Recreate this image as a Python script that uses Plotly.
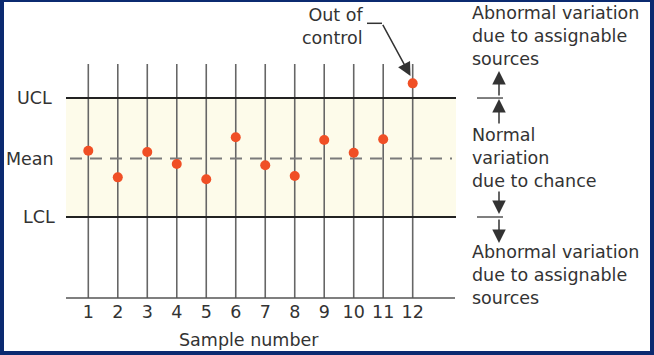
import plotly.graph_objects as go

# ---- data ----
samples = [1, 2, 3, 4, 5, 6, 7, 8, 9, 10, 11, 12]
tick_labels = ["1", "2", "3", "4", "5", "6", "7", "8", "9", "10", "11", "12"]
sample_values = [0.39, -0.95, 0.33, -0.28, -1.05, 1.07, -0.34, -0.88, 0.93, 0.29, 0.97, 3.79]
mean_value = 0.0
ucl_value = 3.05
lcl_value = -2.95
limit_names = ["UCL", "Mean", "LCL"]

# ---- layout helpers (pixel -> data coordinates) ----
W, H = 654, 355
ML, MR, MT, MB = 4, 4, 2, 4
X1PX, DXPX = 88.3, 29.49
Y0PX, DYPX = 158.5, 19.83


def dx(px):
    return 1 + (px - X1PX) / DXPX


def dy(py):
    return (Y0PX - py) / DYPX


FONT = "DejaVu Sans"
FS = 17.5
TXT = "#333333"
x_left, x_right = dx(66), dx(455)
y_base, y_top = dy(298), dy(64)

fig = go.Figure()

# vertical sample lines
vx, vy = [], []
for s in samples:
    vx += [s, s, None]
    vy += [y_base, y_top, None]
fig.add_trace(go.Scatter(x=vx, y=vy, mode="lines", line=dict(color="#666666", width=1.6),
                         hoverinfo="skip", showlegend=False))

# baseline axis
fig.add_trace(go.Scatter(x=[x_left, x_right], y=[y_base, y_base], mode="lines",
                         line=dict(color="#555555", width=1.6), hoverinfo="skip", showlegend=False))

# control limits
for v in (ucl_value, lcl_value):
    fig.add_trace(go.Scatter(x=[x_left, dx(456)], y=[v, v], mode="lines",
                             line=dict(color="#222222", width=2.2), hoverinfo="skip", showlegend=False))
fig.add_trace(go.Scatter(x=[dx(70), dx(452)], y=[mean_value, mean_value], mode="lines",
                         line=dict(color="#7a7a7a", width=2, dash="12px,8px"),
                         hoverinfo="skip", showlegend=False))

# sample points
fig.add_trace(go.Scatter(x=samples, y=sample_values, mode="markers",
                         marker=dict(color="#f04f25", size=10, line=dict(width=0)),
                         showlegend=False))

# tick labels
fig.add_trace(go.Scatter(x=samples, y=[dy(314)] * len(samples), mode="text", text=tick_labels,
                         textposition="middle center",
                         textfont=dict(family=FONT, size=FS, color=TXT),
                         hoverinfo="skip", showlegend=False))

shapes = [
    dict(type="rect", xref="x", yref="y", x0=x_left, x1=dx(456), y0=lcl_value, y1=ucl_value,
         fillcolor="#fdfbea", line=dict(width=0), layer="below"),
    dict(type="line", xref="x", yref="y", x0=dx(477), x1=dx(503), y0=ucl_value, y1=ucl_value,
         line=dict(color="#555555", width=1.5)),
    dict(type="line", xref="x", yref="y", x0=dx(477), x1=dx(503), y0=lcl_value, y1=lcl_value,
         line=dict(color="#555555", width=1.5)),
    dict(type="line", xref="x", yref="y", x0=dx(367), x1=dx(382), y0=dy(23.3), y1=dy(23.3),
         line=dict(color="#333333", width=1.5)),
]

ann = []
# left limit labels
for name, v, rpx in zip(limit_names, [ucl_value, mean_value, lcl_value], [54, 56, 57]):
    ann.append(dict(x=dx(rpx), y=v, xref="x", yref="y",
                    text=name, showarrow=False, xanchor="right", yanchor="middle",
                    font=dict(family=FONT, size=FS, color=TXT)))

# axis title
ann.append(dict(x=dx(249), y=dy(340), xref="x", yref="y", text="Sample number", showarrow=False,
                xanchor="center", yanchor="middle", font=dict(family=FONT, size=FS, color=TXT)))

# right-side texts
for txt, cy in [("Abnormal variation<br>due to assignable<br>sources", 36),
                ("Normal<br>variation<br>due to chance", 158),
                ("Abnormal variation<br>due to assignable<br>sources", 275)]:
    ann.append(dict(x=dx(470), y=dy(cy), xref="x", yref="y", text=txt, showarrow=False,
                    xanchor="left", yanchor="middle", align="left",
                    font=dict(family=FONT, size=FS, color=TXT)))

ann.append(dict(x=dx(365), y=dy(26), xref="x", yref="y", text="Out of<br>control", showarrow=False,
                xanchor="right", yanchor="middle", align="right",
                font=dict(family=FONT, size=FS, color=TXT)))

# arrows
arrow_style = dict(showarrow=True, arrowhead=2, arrowsize=1.8, arrowwidth=1.5, arrowcolor="#333333",
                   text="", xref="x", yref="y", axref="pixel", ayref="pixel", standoff=0, startstandoff=0)
for head_py, ay in [(71, 26), (99, 26), (214, -24), (243, -25)]:
    ann.append(dict(x=dx(499), y=dy(head_py), ax=0, ay=ay, **arrow_style))
ann.append(dict(x=dx(410.5), y=dy(76), ax=-28.5, ay=-52.7, **arrow_style))

fig.update_layout(
    width=W, height=H,
    margin=dict(l=ML, r=MR, t=MT, b=MB, pad=0),
    paper_bgcolor="#0b2a70",
    plot_bgcolor="#ffffff",
    xaxis=dict(range=[dx(ML), dx(W - MR)], visible=False, fixedrange=True),
    yaxis=dict(range=[dy(H - MB), dy(MT)], visible=False, fixedrange=True),
    shapes=shapes,
    annotations=ann,
    showlegend=False,
)

fig.write_html("out.html")
